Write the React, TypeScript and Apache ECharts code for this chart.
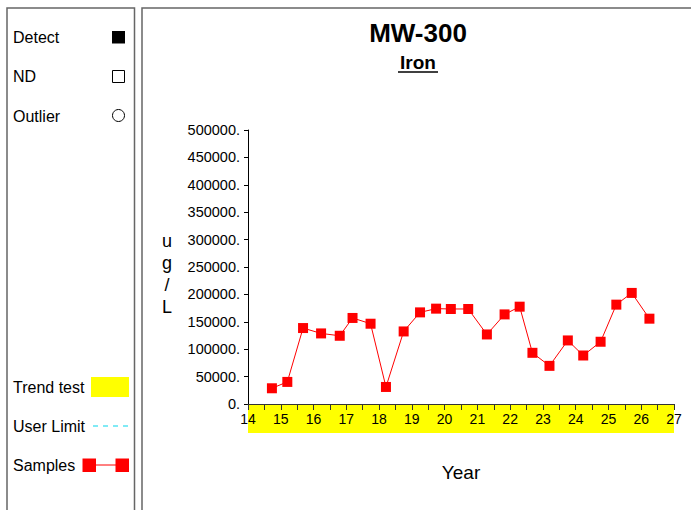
import React, { useEffect, useRef } from "react";
import * as echarts from "echarts";

const chartTitle = "MW-300";
const analyte = "Iron";
const unitLetters = ["u", "g", "/", "L"];
const xAxisName = "Year";

const sampleYears = [
  14.73, 15.2, 15.68, 16.23, 16.8, 17.19, 17.74, 18.21, 18.75, 19.25, 19.74, 20.19,
  20.72, 21.29, 21.83, 22.29, 22.68, 23.2, 23.76, 24.23, 24.76, 25.24, 25.71, 26.25,
];
const sampleValues = [
  28700, 40300, 138600, 128800, 124500, 157000, 146500, 31100, 132400, 167200, 174000, 173400,
  173400, 126900, 163500, 177600, 93400, 69600, 116000, 88500, 113600, 181300, 202700, 155700,
];

const xMin = 14;
const xMax = 27;
const xStep = 1;
const yMin = 0;
const yMax = 500000;
const yStep = 50000;

const legendLabels = ["Detect", "ND", "Outlier", "Trend test", "User Limit", "Samples"];

const FONT = "'Liberation Sans', Arial, sans-serif";

export default function App() {
  const ref = useRef<HTMLDivElement>(null);

  useEffect(() => {
    if (!ref.current) return;
    const chart = echarts.init(ref.current, null, { renderer: "svg" });
    const data = sampleYears.map((x, i) => [x, sampleValues[i]]);

    chart.setOption({
      animation: false,
      backgroundColor: "#fff",
      textStyle: { fontFamily: FONT },
      grid: { left: 248, right: 17, top: 130, bottom: 106, containLabel: false },
      xAxis: {
        type: "value",
        min: xMin,
        max: xMax,
        interval: xStep,
        z: 5,
        axisLine: { show: true, lineStyle: { color: "#333", width: 1 } },
        axisTick: { show: true, length: 6, lineStyle: { color: "#333" } },
        minorTick: { show: true, splitNumber: 2, length: 6, lineStyle: { color: "#333" } },
        splitLine: { show: false },
        axisLabel: { color: "#000", fontSize: 14, margin: 8, fontFamily: FONT },
      },
      yAxis: {
        type: "value",
        min: yMin,
        max: yMax,
        interval: yStep,
        axisLine: { show: true, lineStyle: { color: "#000", width: 1 } },
        axisTick: { show: true, length: 4, lineStyle: { color: "#000" } },
        splitLine: { show: false },
        axisLabel: {
          color: "#000",
          fontSize: 14.5,
          margin: 8,
          fontFamily: FONT,
          formatter: (v: number) => `${v}.`,
        },
      },
      series: [
        {
          type: "line",
          data,
          symbol: "rect",
          symbolSize: 10,
          itemStyle: { color: "#ff0000" },
          lineStyle: { color: "#ff0000", width: 1 },
          z: 10,
        },
      ],
    });

    const pA = chart.convertToPixel({ gridIndex: 0 }, [xMin, yMin]) as number[];
    const pB = chart.convertToPixel({ gridIndex: 0 }, [xMax, yMin]) as number[];
    const pTop = chart.convertToPixel({ gridIndex: 0 }, [xMin, yMax]) as number[];
    const midX = (pA[0] + pB[0]) / 2;

    const legendText = (text: string, y: number) => ({
      type: "text",
      x: 13,
      y,
      style: { text, fill: "#000", font: `16px ${FONT}`, textVerticalAlign: "middle" },
    });

    chart.setOption({
      graphic: [
        // panels
        {
          type: "rect",
          shape: { x: 7, y: 8, width: 127.5, height: 520 },
          style: { fill: "none", stroke: "#666", lineWidth: 1.5 },
        },
        {
          type: "rect",
          shape: { x: 142, y: 8, width: 600, height: 520 },
          style: { fill: "none", stroke: "#666", lineWidth: 1.5 },
        },
        // trend band under x axis
        {
          type: "rect",
          z: -10,
          shape: { x: pA[0], y: pA[1], width: pB[0] - pA[0], height: 29 },
          style: { fill: "#ffff00" },
        },
        // titles
        {
          type: "text",
          x: midX - 43,
          y: 33,
          style: {
            text: chartTitle,
            fill: "#000",
            font: `bold 26px ${FONT}`,
            textAlign: "center",
            textVerticalAlign: "middle",
          },
        },
        {
          type: "text",
          x: midX - 43,
          y: 62,
          style: {
            text: analyte,
            fill: "#000",
            font: `bold 19px ${FONT}`,
            textAlign: "center",
            textVerticalAlign: "middle",
          },
        },
        {
          type: "line",
          shape: { x1: midX - 63, y1: 72, x2: midX - 23, y2: 72 },
          style: { stroke: "#000", lineWidth: 1.5 },
        },
        // y unit label
        {
          type: "text",
          x: 167,
          y: (pA[1] + pTop[1]) / 2 + 7,
          style: {
            text: unitLetters.join("\n"),
            fill: "#000",
            font: `18px ${FONT}`,
            lineHeight: 22,
            textAlign: "center",
            textVerticalAlign: "middle",
          },
        },
        // x axis name
        {
          type: "text",
          x: midX,
          y: 472,
          style: {
            text: xAxisName,
            fill: "#000",
            font: `19px ${FONT}`,
            textAlign: "center",
            textVerticalAlign: "middle",
          },
        },
        // legend
        legendText(legendLabels[0], 37),
        { type: "rect", shape: { x: 112, y: 31, width: 13, height: 12.5 }, style: { fill: "#000" } },
        legendText(legendLabels[1], 76),
        {
          type: "rect",
          shape: { x: 112.5, y: 70.5, width: 12, height: 12 },
          style: { fill: "#fff", stroke: "#000", lineWidth: 1 },
        },
        legendText(legendLabels[2], 116),
        {
          type: "circle",
          shape: { cx: 118.5, cy: 115.5, r: 6 },
          style: { fill: "#fff", stroke: "#000", lineWidth: 1 },
        },
        legendText(legendLabels[3], 387),
        { type: "rect", shape: { x: 91, y: 377, width: 38, height: 20 }, style: { fill: "#ffff00" } },
        legendText(legendLabels[4], 426),
        {
          type: "line",
          shape: { x1: 93, y1: 426, x2: 129, y2: 426 },
          style: { stroke: "#80eaf5", lineWidth: 2, lineDash: [5, 5] },
        },
        legendText(legendLabels[5], 465),
        {
          type: "line",
          shape: { x1: 89, y1: 465, x2: 122, y2: 465 },
          style: { stroke: "#ff0000", lineWidth: 1 },
        },
        { type: "rect", shape: { x: 82.5, y: 458.5, width: 13.5, height: 13.5 }, style: { fill: "#ff0000" } },
        { type: "rect", shape: { x: 115.5, y: 458.5, width: 13.5, height: 13.5 }, style: { fill: "#ff0000" } },
      ],
    });

    return () => chart.dispose();
  }, []);

  return (
    <div
      ref={ref}
      style={{ position: "fixed", left: 0, top: 0, width: 691, height: 510, background: "#fff" }}
    />
  );
}
